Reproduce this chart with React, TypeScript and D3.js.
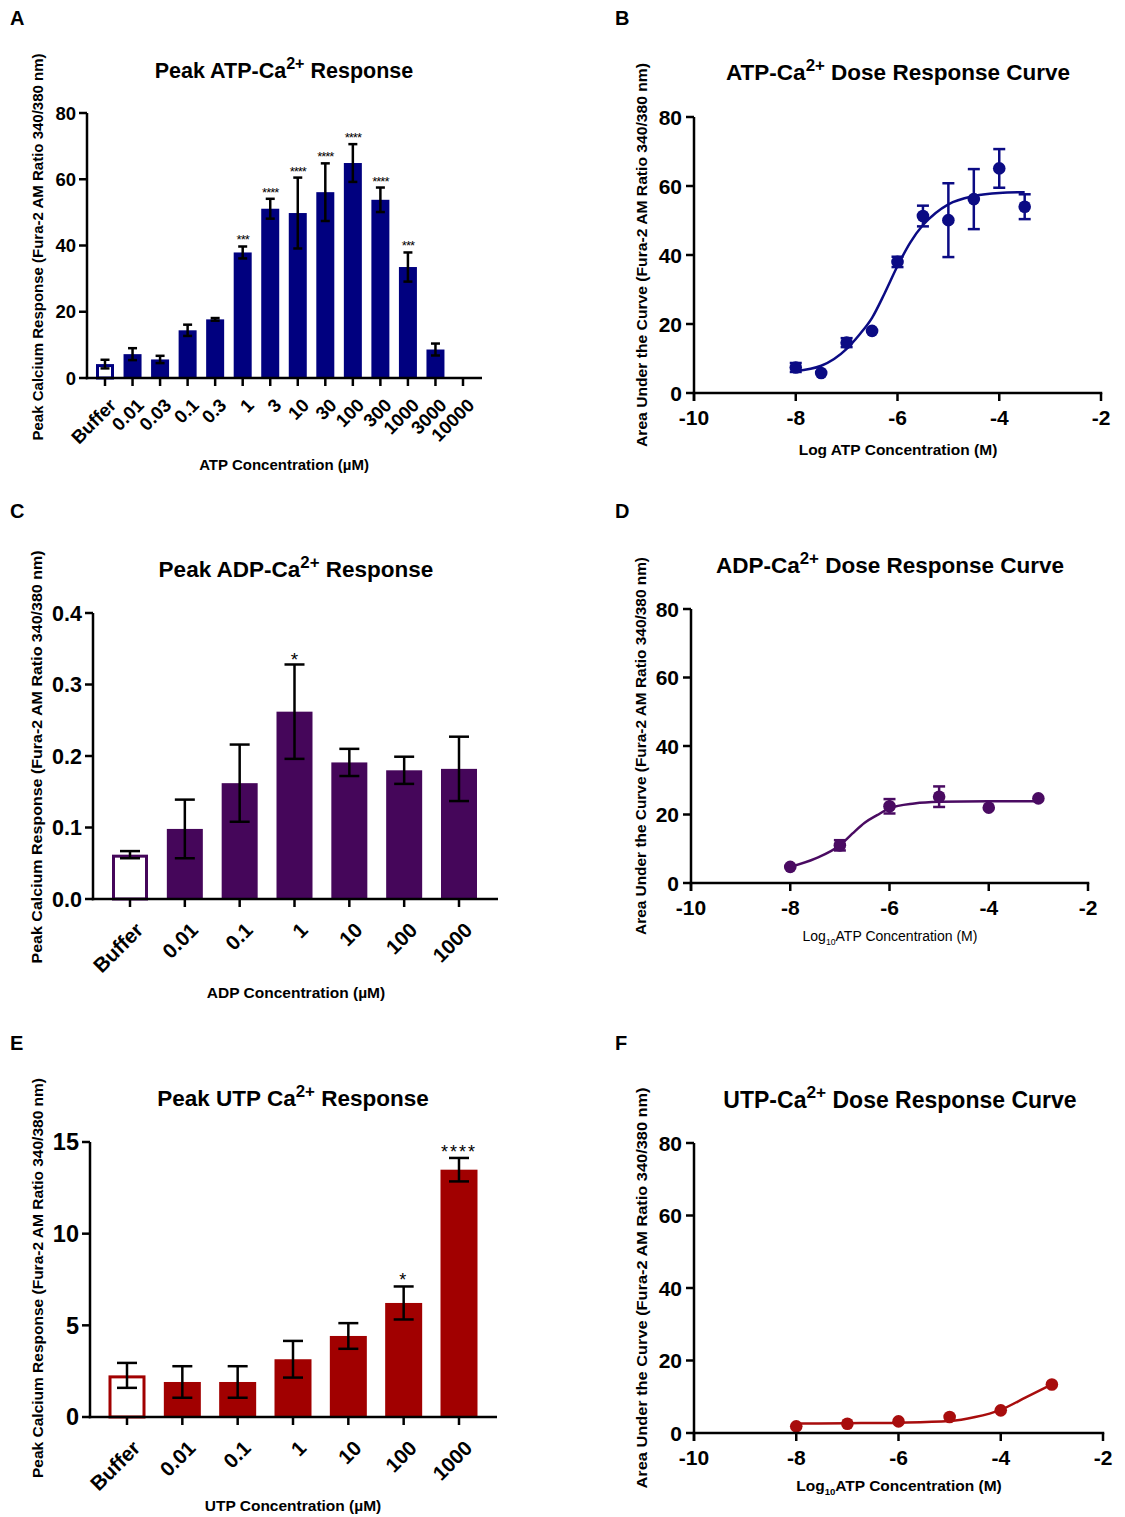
import React from 'react';
import * as d3 from 'd3';

const FONT = "'Liberation Sans', Arial, Helvetica, sans-serif";
const NAVY = '#00007f';
const PURPLE = '#45065a';
const RED = '#a10000';

// --- A: peak ATP response (bars) ---
const atpCats = ['Buffer', '0.01', '0.03', '0.1', '0.3', '1', '3', '10', '30', '100', '300', '1000', '3000', '10000'];
const atpPeak = [4.2, 7.2, 5.6, 14.4, 17.7, 37.9, 51.1, 49.8, 56.1, 64.9, 53.8, 33.5, 8.6, null];
const atpPeakSem = [1.3, 1.8, 1.1, 1.7, 0.4, 1.8, 3.0, 10.7, 8.7, 5.7, 3.7, 4.4, 1.8, null];
const atpStars = ['', '', '', '', '', '***', '****', '****', '****', '****', '****', '***', '', ''];
const atpTicks = [0, 20, 40, 60, 80];

// --- B: ATP dose response ---
const atpLogConc = [-8, -7.5, -7, -6.5, -6, -5.5, -5, -4.5, -4, -3.5];
const atpAuc = [7.4, 5.8, 14.6, 18.0, 38.0, 51.3, 50.1, 56.2, 65.1, 54.0];
const atpAucSem = [1.3, 0, 1.3, 0, 1.5, 3.0, 10.7, 8.7, 5.6, 3.6];
const atpFitX = [-8, -7.5, -7, -6.75, -6.5, -6.25, -6, -5.75, -5.5, -5.25, -5, -4.5, -4, -3.5];
const atpFitY = [6.4, 7.9, 12.8, 16.9, 21.8, 29.0, 36.8, 43.6, 48.7, 52.2, 54.7, 57.1, 58.0, 58.2];

// --- C: peak ADP response (bars) ---
const adpCats = ['Buffer', '0.01', '0.1', '1', '10', '100', '1000'];
const adpPeak = [0.062, 0.098, 0.162, 0.262, 0.191, 0.180, 0.182];
const adpPeakSem = [0.005, 0.041, 0.054, 0.066, 0.019, 0.019, 0.045];
const adpStars = ['', '', '', '*', '', '', ''];
const adpTicks = [0, 0.1, 0.2, 0.3, 0.4];

// --- D: ADP dose response ---
const adpLogConc = [-8, -7, -6, -5, -4, -3];
const adpAuc = [4.7, 11.0, 22.4, 25.2, 22.0, 24.7];
const adpAucSem = [0, 1.5, 2.1, 3.0, 0, 0];
const adpFitX = [-8, -7.5, -7, -6.75, -6.5, -6.25, -6, -5.5, -5, -4, -3];
const adpFitY = [4.7, 7.1, 11.0, 14.4, 17.6, 19.8, 21.8, 23.2, 23.7, 23.9, 23.9];

// --- E: peak UTP response (bars) ---
const utpCats = ['Buffer', '0.01', '0.1', '1', '10', '100', '1000'];
const utpPeak = [2.27, 1.91, 1.91, 3.15, 4.42, 6.22, 13.49];
const utpPeakSem = [0.68, 0.86, 0.86, 1.0, 0.7, 0.9, 0.64];
const utpStars = ['', '', '', '', '', '*', '****'];
const utpTicks = [0, 5, 10, 15];

// --- F: UTP dose response ---
const utpLogConc = [-8, -7, -6, -5, -4, -3];
const utpAuc = [1.84, 2.57, 3.2, 4.4, 6.25, 13.4];
const utpAucSem = [0, 0, 0, 0, 0, 0];
const utpFitX = [-8, -7, -6, -5, -4.5, -4, -3.5, -3];
const utpFitY = [2.6, 2.7, 2.85, 3.3, 4.4, 6.4, 9.9, 13.4];

const logTicks = [-10, -8, -6, -4, -2];
const aucTicks = [0, 20, 40, 60, 80];

const YLABEL_PEAK = 'Peak Calcium Response (Fura-2 AM Ratio 340/380 nm)';
const YLABEL_AUC = 'Area Under the Curve (Fura-2 AM Ratio 340/380 nm)';

const Title = ({ x, y, size, pre, post }) => (
  <text x={x} y={y} textAnchor="middle" fontSize={size} fontWeight="bold" fontFamily={FONT}>
    {pre}
    <tspan dy={-size * 0.42} fontSize={size * 0.75}>2+</tspan>
    <tspan dy={size * 0.42} fontSize={size}>{post}</tspan>
  </text>
);

const RotLabel = ({ x, cy, len, size, text }) => (
  <text
    transform={`translate(${x},${cy}) rotate(-90)`}
    textAnchor="middle"
    fontSize={size}
    fontWeight="bold"
    fontFamily={FONT}
    textLength={len}
    lengthAdjust="spacingAndGlyphs"
  >
    {text}
  </text>
);

const BarPanel = ({ c }) => {
  const x = d3.scalePoint().domain(c.cats).range([c.firstCenter, c.lastCenter]);
  const y = d3.scaleLinear().domain(c.yDomain).range([c.yBottom, c.yTop]);
  const fmt = c.tickFormat;
  return (
    <g fontFamily={FONT}>
      <Title x={c.titleX} y={c.titleY} size={c.titleSize} pre={c.titlePre} post={c.titlePost} />
      {c.cats.map((cat, i) => {
        const v = c.values[i];
        if (v == null) return null;
        const cx = x(cat);
        const hollow = i === 0;
        const sw = 3;
        return (
          <rect
            key={cat}
            x={cx - c.barWidth / 2 + (hollow ? sw / 2 : 0)}
            y={y(v) + (hollow ? sw / 2 : 0)}
            width={c.barWidth - (hollow ? sw : 0)}
            height={y(0) - y(v) - (hollow ? sw / 2 : 0)}
            fill={hollow ? '#fff' : c.color}
            stroke={hollow ? c.color : 'none'}
            strokeWidth={sw}
          />
        );
      })}
      {c.cats.map((cat, i) => {
        const v = c.values[i];
        const e = c.errors[i];
        if (v == null) return null;
        const cx = x(cat);
        const hw = c.capWidth / 2;
        return (
          <g key={'e' + cat} stroke="#000" strokeWidth={2.5}>
            <line x1={cx} x2={cx} y1={y(v + e)} y2={y(v - e)} />
            <line x1={cx - hw} x2={cx + hw} y1={y(v + e)} y2={y(v + e)} />
            <line x1={cx - hw} x2={cx + hw} y1={y(v - e)} y2={y(v - e)} />
          </g>
        );
      })}
      {c.cats.map((cat, i) =>
        c.stars[i] ? (
          <text
            key={'s' + cat}
            x={x(cat)}
            y={y(c.values[i] + c.errors[i]) + c.starDy}
            textAnchor="middle"
            fontSize={c.starSize}
            letterSpacing={c.starSpacing}
          >
            {c.stars[i]}
          </text>
        ) : null
      )}
      {/* axes */}
      <line x1={c.axisX} x2={c.axisX} y1={c.yTop} y2={c.yBottom + 1.25} stroke="#000" strokeWidth={2.5} />
      <line x1={c.axisX - 1.25} x2={c.axisRight} y1={c.yBottom} y2={c.yBottom} stroke="#000" strokeWidth={2.5} />
      {c.yTicks.map((t) => (
        <g key={'yt' + t}>
          <line x1={c.axisX - 8} x2={c.axisX} y1={y(t)} y2={y(t)} stroke="#000" strokeWidth={2.5} />
          <text x={c.axisX - 11} y={y(t)} dy="0.36em" textAnchor="end" fontSize={c.yTickSize} fontWeight="bold">
            {fmt(t)}
          </text>
        </g>
      ))}
      {c.cats.map((cat) => (
        <g key={'xt' + cat}>
          <line x1={x(cat)} x2={x(cat)} y1={c.yBottom} y2={c.yBottom + 8} stroke="#000" strokeWidth={2.5} />
          <text
            transform={`translate(${x(cat) + c.xLabDx},${c.yBottom + c.xLabDy}) rotate(-45)`}
            dy="0.72em"
            textAnchor="end"
            fontSize={c.xTickSize}
            fontWeight="bold"
          >
            {cat}
          </text>
        </g>
      ))}
      <text x={c.xTitleX} y={c.xTitleY} textAnchor="middle" fontSize={c.xTitleSize} fontWeight="bold">
        {c.xTitle}
      </text>
      <RotLabel x={c.yTitleX} cy={c.yTitleCy} len={c.yTitleLen} size={14.5} text={YLABEL_PEAK} />
    </g>
  );
};

const CurvePanel = ({ c }) => {
  const x = d3.scaleLinear().domain([-10, -2]).range([c.axisX, c.axisRight]);
  const y = d3.scaleLinear().domain([0, 80]).range([c.yBottom, c.yTop]);
  const line = d3
    .line()
    .x((d) => x(d[0]))
    .y((d) => y(d[1]))
    .curve(d3.curveMonotoneX);
  const fit = c.fitX.map((v, i) => [v, c.fitY[i]]);
  return (
    <g fontFamily={FONT}>
      <Title x={c.titleX} y={c.titleY} size={c.titleSize} pre={c.titlePre} post=" Dose Response Curve" />
      <path d={line(fit)} fill="none" stroke={c.color} strokeWidth={2.5} />
      {c.xs.map((v, i) => {
        const m = c.ys[i];
        const e = c.sem[i];
        const hw = 6;
        return (
          <g key={'p' + v}>
            {e > 0 && (
              <g stroke={c.color} strokeWidth={2.5}>
                <line x1={x(v)} x2={x(v)} y1={y(m + e)} y2={y(m - e)} />
                <line x1={x(v) - hw} x2={x(v) + hw} y1={y(m + e)} y2={y(m + e)} />
                <line x1={x(v) - hw} x2={x(v) + hw} y1={y(m - e)} y2={y(m - e)} />
              </g>
            )}
            <circle cx={x(v)} cy={y(m)} r={6.3} fill={c.color} />
          </g>
        );
      })}
      <line x1={c.axisX} x2={c.axisX} y1={c.yTop} y2={c.yBottom + 8} stroke="#000" strokeWidth={2.5} />
      <line x1={c.axisX - 1.25} x2={c.axisRight + 1.25} y1={c.yBottom} y2={c.yBottom} stroke="#000" strokeWidth={2.5} />
      {aucTicks.map((t) => (
        <g key={'yt' + t}>
          <line x1={c.axisX - 8} x2={c.axisX} y1={y(t)} y2={y(t)} stroke="#000" strokeWidth={2.5} />
          <text x={c.axisX - 12} y={y(t)} dy="0.36em" textAnchor="end" fontSize={21} fontWeight="bold">
            {t}
          </text>
        </g>
      ))}
      {logTicks.map((t) => (
        <g key={'xt' + t}>
          <line x1={x(t)} x2={x(t)} y1={c.yBottom} y2={c.yBottom + 8} stroke="#000" strokeWidth={2.5} />
          <text x={x(t)} y={c.yBottom + 32} textAnchor="middle" fontSize={21} fontWeight="bold">
            {t}
          </text>
        </g>
      ))}
      {c.sub ? (
        <text
          x={c.xTitleX}
          y={c.xTitleY}
          textAnchor="middle"
          fontSize={c.xTitleSize}
          fontWeight={c.xTitleBold ? 'bold' : 'normal'}
        >
          Log
          <tspan dy={4} fontSize={c.xTitleSize * 0.62}>10</tspan>
          <tspan dy={-4} fontSize={c.xTitleSize}>ATP Concentration (M)</tspan>
        </text>
      ) : (
        <text x={c.xTitleX} y={c.xTitleY} textAnchor="middle" fontSize={c.xTitleSize} fontWeight="bold">
          Log ATP Concentration (M)
        </text>
      )}
      <RotLabel x={c.yTitleX} cy={c.yTitleCy} len={c.yTitleLen} size={14.5} text={YLABEL_AUC} />
    </g>
  );
};

const panelA = {
  cats: atpCats, values: atpPeak, errors: atpPeakSem, stars: atpStars, color: NAVY,
  yDomain: [0, 80], yTicks: atpTicks, tickFormat: (d) => String(d),
  axisX: 87, axisRight: 482, yTop: 113, yBottom: 378, firstCenter: 105, lastCenter: 463,
  barWidth: 18, capWidth: 9, starSize: 13, starSpacing: -1, starDy: -2,
  yTickSize: 18.5, xTickSize: 18.5, xLabDx: 3, xLabDy: 19,
  titleX: 284, titleY: 78, titleSize: 21.5, titlePre: 'Peak ATP-Ca', titlePost: ' Response',
  xTitle: 'ATP Concentration (\u00b5M)', xTitleX: 284, xTitleY: 470, xTitleSize: 15,
  yTitleX: 43, yTitleCy: 247, yTitleLen: 387,
};

const panelC = {
  cats: adpCats, values: adpPeak, errors: adpPeakSem, stars: adpStars, color: PURPLE,
  yDomain: [0, 0.4], yTicks: adpTicks, tickFormat: (d) => d3.format('.1f')(d),
  axisX: 93, axisRight: 498, yTop: 613, yBottom: 899, firstCenter: 130, lastCenter: 459,
  barWidth: 36, capWidth: 20, starSize: 19, starSpacing: 0, starDy: 2,
  yTickSize: 21.5, xTickSize: 20.5, xLabDx: 4, xLabDy: 22,
  titleX: 296, titleY: 577, titleSize: 22.5, titlePre: 'Peak ADP-Ca', titlePost: ' Response',
  xTitle: 'ADP Concentration (\u00b5M)', xTitleX: 296, xTitleY: 998, xTitleSize: 15.5,
  yTitleX: 42, yTitleCy: 757, yTitleLen: 413,
};

const panelE = {
  cats: utpCats, values: utpPeak, errors: utpPeakSem, stars: utpStars, color: RED,
  yDomain: [0, 15], yTicks: utpTicks, tickFormat: (d) => String(d),
  axisX: 90, axisRight: 497, yTop: 1142, yBottom: 1417, firstCenter: 127, lastCenter: 459,
  barWidth: 37, capWidth: 20, starSize: 18, starSpacing: 2, starDy: 0,
  yTickSize: 23.5, xTickSize: 20.5, xLabDx: 4, xLabDy: 22,
  titleX: 293, titleY: 1106, titleSize: 22.5, titlePre: 'Peak UTP Ca', titlePost: ' Response',
  xTitle: 'UTP Concentration (\u00b5M)', xTitleX: 293, xTitleY: 1511, xTitleSize: 15.5,
  yTitleX: 43, yTitleCy: 1278, yTitleLen: 400,
};

const panelB = {
  xs: atpLogConc, ys: atpAuc, sem: atpAucSem, fitX: atpFitX, fitY: atpFitY, color: '#0b0b84',
  axisX: 694, axisRight: 1101, yTop: 117, yBottom: 393,
  titleX: 898, titleY: 80, titleSize: 22.5, titlePre: 'ATP-Ca',
  sub: false, xTitleX: 898, xTitleY: 455, xTitleSize: 15.5,
  yTitleX: 647, yTitleCy: 255, yTitleLen: 384,
};

const panelD = {
  xs: adpLogConc, ys: adpAuc, sem: adpAucSem, fitX: adpFitX, fitY: adpFitY, color: '#4a0b62',
  axisX: 691, axisRight: 1088, yTop: 609, yBottom: 883,
  titleX: 890, titleY: 573, titleSize: 22.5, titlePre: 'ADP-Ca',
  sub: true, xTitleBold: false, xTitleX: 890, xTitleY: 941, xTitleSize: 14,
  yTitleX: 646, yTitleCy: 746, yTitleLen: 378,
};

const panelF = {
  xs: utpLogConc, ys: utpAuc, sem: utpAucSem, fitX: utpFitX, fitY: utpFitY, color: '#a80d0d',
  axisX: 694, axisRight: 1103, yTop: 1143, yBottom: 1433,
  titleX: 900, titleY: 1108, titleSize: 23, titlePre: 'UTP-Ca',
  sub: true, xTitleBold: true, xTitleX: 899, xTitleY: 1491, xTitleSize: 15.5,
  yTitleX: 647, yTitleCy: 1288, yTitleLen: 401,
};

const letters = [
  ['A', 10, 25],
  ['B', 615, 25],
  ['C', 10, 518],
  ['D', 615, 518],
  ['E', 10, 1050],
  ['F', 615, 1050],
];

export default function App() {
  return (
    <svg
      width={1125}
      height={1517}
      style={{ position: 'absolute', left: 0, top: 0, background: '#fff' }}
    >
      <rect width={1125} height={1517} fill="#fff" />
      {letters.map(([l, x, y]) => (
        <text key={l} x={x} y={y} fontSize={20} fontWeight="bold" fontFamily={FONT}>
          {l}
        </text>
      ))}
      <BarPanel c={panelA} />
      <CurvePanel c={panelB} />
      <BarPanel c={panelC} />
      <CurvePanel c={panelD} />
      <BarPanel c={panelE} />
      <CurvePanel c={panelF} />
    </svg>
  );
}
